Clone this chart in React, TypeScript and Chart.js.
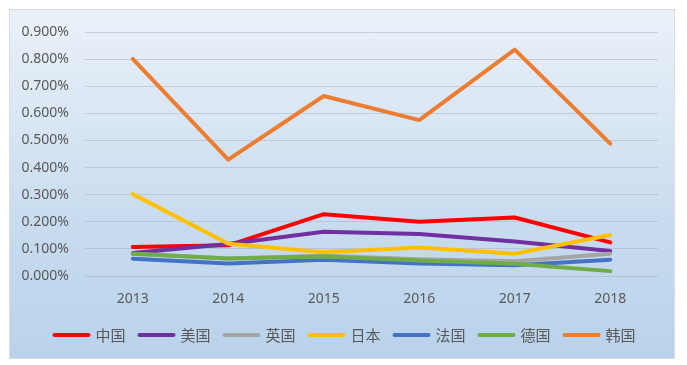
import React, { useEffect, useRef } from "react";
import { Chart, registerables } from "chart.js";

Chart.register(...registerables);

const years = ["2013", "2014", "2015", "2016", "2017", "2018"];
const seriesNames = ["中国", "美国", "英国", "日本", "法国", "德国", "韩国"];
const china = [0.107, 0.113, 0.228, 0.2, 0.216, 0.124];
const usa = [0.085, 0.118, 0.163, 0.155, 0.127, 0.092];
const uk = [0.082, 0.065, 0.075, 0.062, 0.054, 0.082];
const japan = [0.302, 0.119, 0.088, 0.105, 0.082, 0.151];
const france = [0.064, 0.046, 0.06, 0.046, 0.04, 0.06];
const germany = [0.082, 0.065, 0.072, 0.057, 0.045, 0.018];
const korea = [0.801, 0.429, 0.664, 0.575, 0.835, 0.488];
const seriesValues = [china, usa, uk, japan, france, germany, korea];
const seriesColors = ["#FF0000", "#7030A0", "#A5A5A5", "#FFC000", "#4472C4", "#70AD47", "#ED7D31"];

const bgPlugin = {
  id: "bgBox",
  beforeDraw(chart: any) {
    const ctx = chart.ctx;
    ctx.save();
    ctx.fillStyle = "#ffffff";
    ctx.fillRect(0, 0, chart.width, chart.height);
    const g = ctx.createLinearGradient(0, 9, 0, 358);
    g.addColorStop(0, "#ebf1f9");
    g.addColorStop(0.6, "#c9dcef");
    g.addColorStop(1, "#b9d2eb");
    ctx.fillStyle = g;
    ctx.fillRect(9, 9, 665, 349);
    ctx.strokeStyle = "#dcdcdc";
    ctx.lineWidth = 1;
    ctx.strokeRect(9.5, 9.5, 665, 349);
    ctx.restore();
  },
};

const legendPlugin = {
  id: "customLegend",
  afterDraw(chart: any) {
    const ctx = chart.ctx;
    const ds = chart.data.datasets;
    ctx.save();
    ctx.font = '15px "Noto Sans CJK SC", sans-serif';
    const sw = 38;
    const gap1 = 5;
    const gap2 = 12;
    const widths = ds.map((d: any) => sw + gap1 + ctx.measureText(d.label).width);
    const total = widths.reduce((a: number, b: number) => a + b, 0) + gap2 * (ds.length - 1);
    let x = 344 - total / 2;
    const y = 335;
    ds.forEach((d: any, i: number) => {
      ctx.strokeStyle = d.borderColor;
      ctx.lineWidth = 4;
      ctx.lineCap = "round";
      ctx.beginPath();
      ctx.moveTo(x + 2, y);
      ctx.lineTo(x + sw - 2, y);
      ctx.stroke();
      ctx.fillStyle = "#595959";
      ctx.textBaseline = "middle";
      ctx.textAlign = "left";
      ctx.fillText(d.label, x + sw + gap1, y);
      x += widths[i] + gap2;
    });
    ctx.restore();
  },
};

export default function App() {
  const ref = useRef<HTMLCanvasElement | null>(null);
  useEffect(() => {
    if (!ref.current) return;
    const chart = new Chart(ref.current, {
      type: "line",
      data: {
        labels: years,
        datasets: seriesNames.map((name, i) => ({
          label: name,
          data: seriesValues[i],
          borderColor: seriesColors[i],
          backgroundColor: seriesColors[i],
          borderWidth: 4,
          pointRadius: 0,
          pointHoverRadius: 0,
          tension: 0,
          borderJoinStyle: "round" as const,
          borderCapStyle: "round" as const,
          order: seriesNames.length - 1 - i,
        })),
      },
      options: {
        responsive: false,
        animation: false,
        layout: { padding: { left: 0, right: 29, top: 32, bottom: 59 } },
        plugins: {
          legend: { display: false },
          tooltip: { enabled: false },
        },
        scales: {
          x: {
            offset: true,
            grid: { display: false },
            border: { display: false },
            ticks: {
              color: "#595959",
              font: { family: '"Noto Sans", sans-serif', size: 14 },
              padding: 7,
            },
            afterFit(scale: any) {
              scale.height = 30;
            },
          },
          y: {
            min: 0,
            max: 0.9,
            border: { display: false },
            grid: { color: "rgba(160,170,180,0.45)", lineWidth: 1, drawTicks: false },
            ticks: {
              stepSize: 0.1,
              color: "#595959",
              font: { family: '"Noto Sans", sans-serif', size: 14 },
              padding: 16,
              callback: (v: any) => Number(v).toFixed(3) + "%",
            },
            afterFit(scale: any) {
              scale.width = 85;
            },
          },
        },
      },
      plugins: [bgPlugin, legendPlugin],
    });
    return () => chart.destroy();
  }, []);
  return (
    <div style={{ position: "fixed", left: 0, top: 0, width: 687, height: 365 }}>
      <canvas ref={ref} width={687} height={365} style={{ display: "block" }} />
    </div>
  );
}
